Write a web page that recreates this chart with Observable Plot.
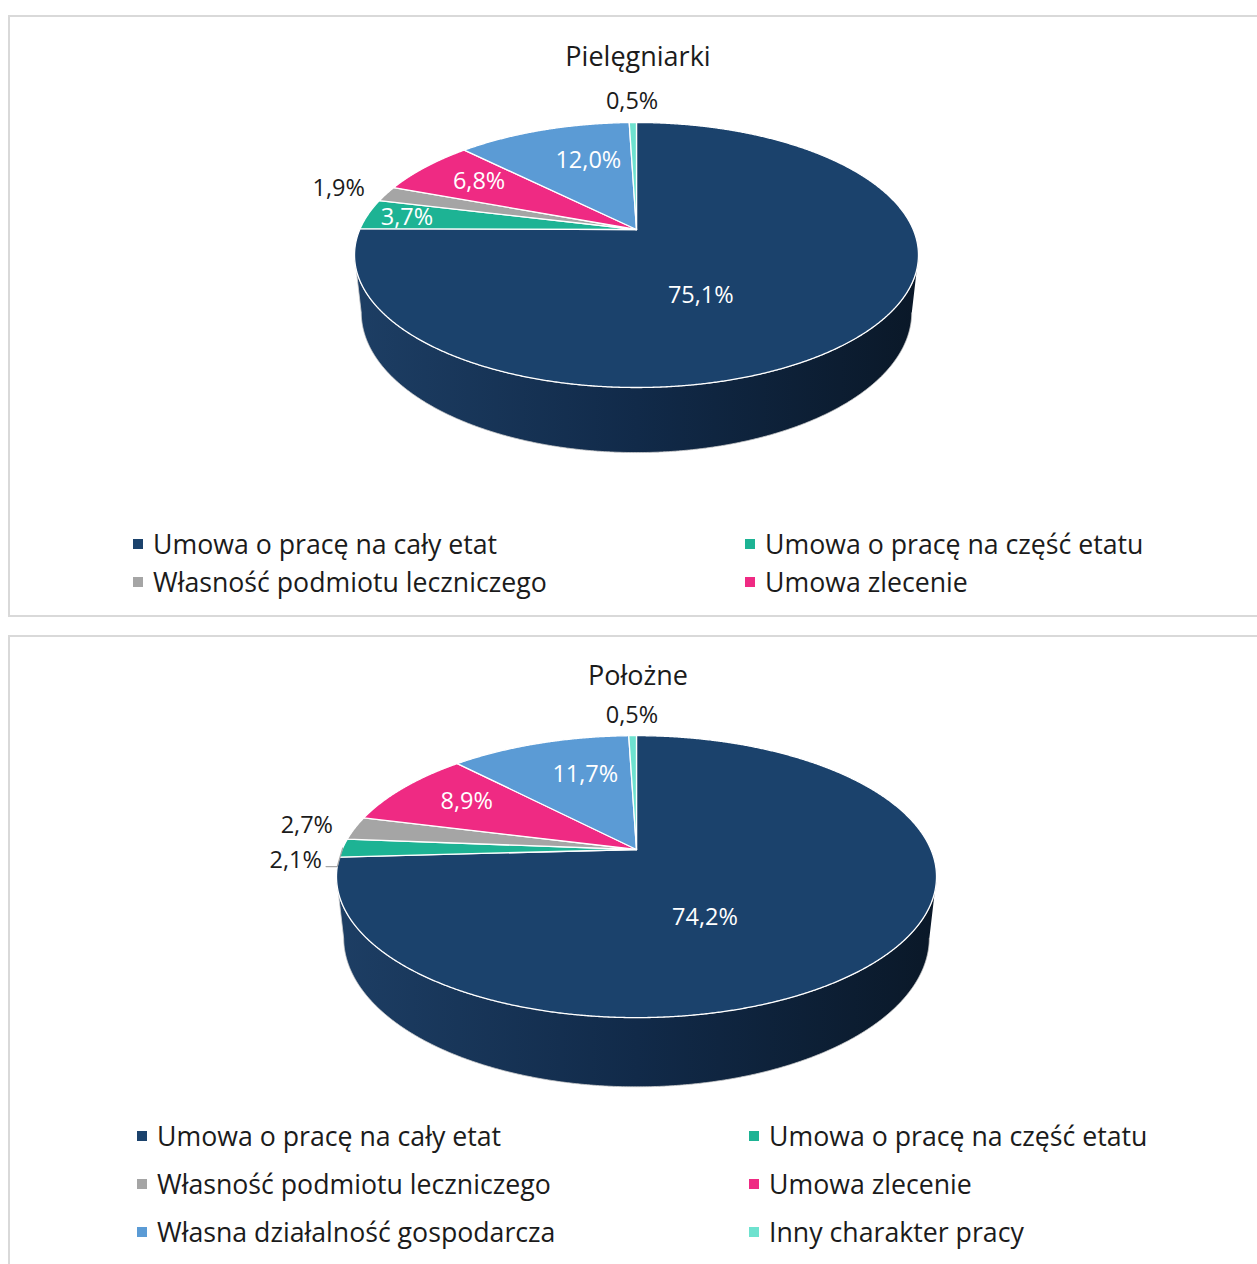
<!DOCTYPE html>
<html><head><meta charset="utf-8">
<script src="https://cdn.jsdelivr.net/npm/d3@7"></script>
<script src="https://cdn.jsdelivr.net/npm/@observablehq/plot@0.6"></script>
<style>
html,body{margin:0;padding:0;background:#fff}
body{font-family:"Open Sans",sans-serif;color:#1b1b1b;width:1257px;height:1264px;overflow:hidden;position:relative}
.panel{position:absolute;left:8px;width:1300px;border:2px solid #d9d9d9;box-sizing:border-box}
.title{position:absolute;left:438px;width:400px;text-align:center;font-size:27px;line-height:32px;white-space:nowrap}
.chart{position:absolute;left:0}
.leg{position:absolute;font-size:26.7px;line-height:32px;white-space:nowrap;height:32px}
.leg i{position:absolute;width:10px;height:10px;left:0;top:11px}
.leg span{position:absolute;left:20px;top:0}
</style></head><body>
<script>
// ---- data ----
const categories = [
  "Umowa o pracę na cały etat",
  "Umowa o pracę na część etatu",
  "Własność podmiotu leczniczego",
  "Umowa zlecenie",
  "Własna działalność gospodarcza",
  "Inny charakter pracy"
];
const sliceColors = ["#1b426c", "#1db394", "#a5a5a5", "#ef2a83", "#5b9bd5", "#6ee2cf"];
const pielegniarki = [75.1, 3.7, 1.9, 6.8, 12.0, 0.5];
const polozne = [74.2, 2.1, 2.7, 8.9, 11.7, 0.5];
const chartTitles = ["Pielęgniarki", "Położne"];

// label placement (fraction of the distance to the pie edge along the slice bisector)
const pielLabelR = [0.46, 0.856, 1.19, 0.76, 0.68, 1.21];
const polLabelR = [0.45, 1.16, 1.17, 0.75, 0.69, 1.19];

// ---- 3D view ----
const VIEW = {D: 4.61, alpha: 27.46 * Math.PI / 180, h: 0.2354};
function project(X, Y, Z) {
  const s = Math.sin(VIEW.alpha), c = Math.cos(VIEW.alpha);
  const yc = Y * c + Z * s;
  const depth = VIEW.D - Y * s + Z * c;
  return [VIEW.D * X / depth, -VIEW.D * yc / depth];
}
const rim = (phi, Y = 0) => project(Math.sin(phi), Y, Math.cos(phi));
const TAU = 2 * Math.PI;
const fmt = v => v.toFixed(1).replace(".", ",") + "%";

function buildPie({values, labelR, gid, cx, cy, k, width, height, fontSize}) {
  const total = d3.sum(values);
  let acc = 0;
  const slices = values.map((v, i) => {
    const a = acc / total * TAU; acc += v; const b = acc / total * TAU;
    return {i, v, a, b, color: sliceColors[i]};
  });
  const STEP = Math.PI / 720;
  // top faces
  const faces = [];
  for (const s of slices) {
    faces.push({id: s.i, u: 0, w: 0, color: s.color});
    const n = Math.max(2, Math.ceil((s.b - s.a) / STEP));
    for (let j = 0; j <= n; j++) {
      const [u, w] = rim(s.a + (s.b - s.a) * j / n);
      faces.push({id: s.i, u, w, color: s.color});
    }
    faces.push({id: s.i, u: 0, w: 0, color: s.color});
  }
  // visible outer wall
  const phiMin = Math.acos(-Math.cos(VIEW.alpha) / VIEW.D);
  const phiMax = TAU - phiMin;
  const walls = [];
  for (const s of slices) {
    const lo = Math.max(s.a, phiMin), hi = Math.min(s.b, phiMax);
    if (hi <= lo) continue;
    const n = Math.ceil((hi - lo) / STEP);
    for (let j = 0; j <= n; j++) { const [u, w] = rim(lo + (hi - lo) * j / n, 0); walls.push({id: s.i, u, w}); }
    for (let j = n; j >= 0; j--) { const [u, w] = rim(lo + (hi - lo) * j / n, -VIEW.h); walls.push({id: s.i, u, w}); }
  }
  // labels
  const labels = slices.map(s => {
    const [ua, wa] = rim(s.a), [ub, wb] = rim(s.b);
    const ta = Math.atan2(wa, ua), tb = Math.atan2(wb, ub);
    const delta = (((tb - ta) % TAU) + TAU) % TAU;
    const mid = ta + delta / 2;
    let edge = 1, bestD = Infinity, edgePt = [0, 0];
    for (let j = 0; j <= 600; j++) {
      const [u, w] = rim(s.a + (s.b - s.a) * j / 600);
      const t = Math.atan2(w, u);
      const dd = Math.abs((((t - mid) % TAU) + TAU + Math.PI) % TAU - Math.PI);
      if (dd < bestD) { bestD = dd; edge = Math.hypot(u, w); edgePt = [u, w]; }
    }
    const f = labelR[s.i];
    const text = fmt(s.v);
    return {
      i: s.i, phi: (s.a + s.b) / 2, text, outside: f > 1,
      x: f * edge * Math.cos(mid), y: f * edge * Math.sin(mid),
      edgePt, halfW: text.length * 0.56 * fontSize / 2 / k,
      textColor: f > 1 ? "#1b1b1b" : "#ffffff", shifted: false
    };
  });
  // avoid overlapping outside labels on the left side
  const minSep = 35 / k;
  const left = labels.filter(l => l.outside && l.x < 0).sort((p, q) => q.phi - p.phi);
  for (let j = 1; j < left.length; j++) {
    const p = left[j - 1], q = left[j];
    if (Math.abs(p.x - q.x) < p.halfW + q.halfW && q.y < p.y + minSep) { q.y = p.y + minSep; q.shifted = true; }
  }
  // leader lines for shifted labels
  const leaders = [];
  for (const l of labels.filter(l => l.shifted)) {
    const y0 = l.y + 7 / k;
    const x0 = l.x + l.halfW + 4 / k;
    let best = null, bd = Infinity;
    for (let j = 0; j <= 400; j++) {
      const phi = phiMax + (Math.PI / 4) * j / 400;
      const [u, w] = rim(phi);
      if (Math.abs(w - y0) < bd) { bd = Math.abs(w - y0); best = [u, w]; }
    }
    leaders.push({id: l.i, u: x0, w: y0}, {id: l.i, u: best[0], w: y0}, {id: l.i, u: l.edgePt[0], w: l.edgePt[1]});
  }

  const svg = Plot.plot({
    width, height, margin: 0,
    style: {fontFamily: '"Open Sans", sans-serif', background: "transparent", overflow: "visible"},
    x: {domain: [-cx / k, (width - cx) / k], range: [0, width], axis: null},
    y: {domain: [-cy / k, (height - cy) / k], range: [0, height], axis: null},
    color: {type: "identity"},
    marks: [
      Plot.line(walls, {x: "u", y: "w", z: "id", fill: `url(#${gid})`, stroke: "#cfcfcf", strokeWidth: 0.8, curve: "linear"}),
      Plot.line(faces, {x: "u", y: "w", z: "id", fill: "color", stroke: "#ffffff", strokeWidth: 1.3, curve: "linear"}),
      Plot.line(leaders, {x: "u", y: "w", z: "id", stroke: "#a6a6a6", strokeWidth: 1.2, curve: "linear"}),
      Plot.text(labels, {x: "x", y: "y", text: "text", fill: "textColor", fontSize, textAnchor: "middle", lineAnchor: "middle", dy: 1})
    ]
  });
  // gradient for the side wall
  const ns = "http://www.w3.org/2000/svg";
  const defs = document.createElementNS(ns, "defs");
  const lg = document.createElementNS(ns, "linearGradient");
  lg.setAttribute("id", gid);
  lg.setAttribute("x1", "0"); lg.setAttribute("x2", "1"); lg.setAttribute("y1", "0"); lg.setAttribute("y2", "0");
  [["0", "#1d3e64"], ["0.5", "#112a49"], ["1", "#0a1828"]].forEach(([o, c]) => {
    const st = document.createElementNS(ns, "stop");
    st.setAttribute("offset", o); st.setAttribute("stop-color", c);
    lg.appendChild(st);
  });
  defs.appendChild(lg);
  svg.insertBefore(defs, svg.firstChild);
  return svg;
}

function addPanel({top, height, title, titleY, values, labelR, gid, svgTop, svgHeight, apexY, k, legendRows, legendY, legendX}) {
  const panel = document.createElement("div");
  panel.className = "panel";
  panel.style.top = top + "px";
  panel.style.height = height + "px";
  document.body.appendChild(panel);

  const t = document.createElement("div");
  t.className = "title";
  t.textContent = title;
  t.style.top = (titleY - 16) + "px";
  document.body.appendChild(t);

  const svg = buildPie({values, labelR, gid, cx: 636, cy: apexY - svgTop, k, width: 1257, height: svgHeight, fontSize: 23.5});
  const holder = document.createElement("div");
  holder.className = "chart";
  holder.style.top = svgTop + "px";
  holder.appendChild(svg);
  document.body.appendChild(holder);

  legendRows.forEach((row, r) => {
    row.forEach((ci, c) => {
      const item = document.createElement("div");
      item.className = "leg";
      item.style.top = (legendY[r] - 16) + "px";
      item.style.left = legendX[c] + "px";
      const sw = document.createElement("i");
      sw.style.background = sliceColors[ci];
      const sp = document.createElement("span");
      sp.textContent = categories[ci];
      item.appendChild(sw); item.appendChild(sp);
      document.body.appendChild(item);
    });
  });
}

addPanel({
  top: 15, height: 602, title: chartTitles[0], titleY: 56,
  values: pielegniarki, labelR: pielLabelR, gid: "wallGrad1",
  svgTop: 80, svgHeight: 390, apexY: 229, k: 276.7,
  legendRows: [[0, 1], [2, 3]], legendY: [544, 582], legendX: [133, 745]
});
addPanel({
  top: 635, height: 700, title: chartTitles[1], titleY: 675,
  values: polozne, labelR: polLabelR, gid: "wallGrad2",
  svgTop: 700, svgHeight: 400, apexY: 849, k: 294.4,
  legendRows: [[0, 1], [2, 3], [4, 5]], legendY: [1136, 1184, 1232], legendX: [137, 749]
});
</script>
</body></html>
